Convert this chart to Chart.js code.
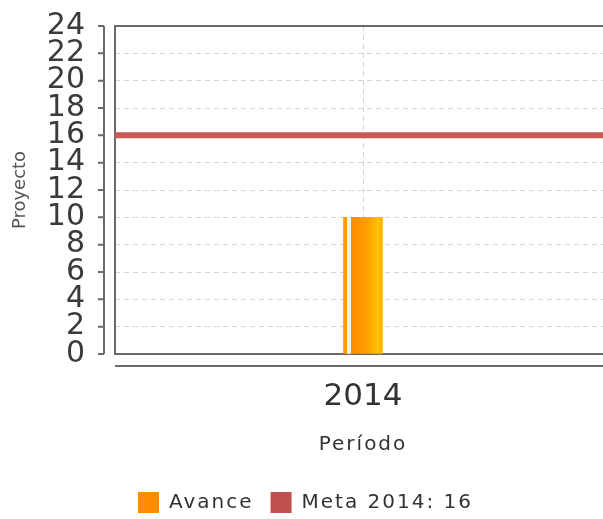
<!DOCTYPE html>
<html>
<head>
<meta charset="utf-8">
<script src="https://cdn.jsdelivr.net/npm/chart.js@4"></script>
<style>
  html, body { margin: 0; padding: 0; overflow: hidden; background: #fff; }
  #wrap { width: 620px; height: 519px; }
</style>
</head>
<body>
<div id="wrap"><canvas id="chart"></canvas></div>
<script>
// data
const categories = ['2014'];
const avance = [10];
const metaValue = 16;
const metaLabel = 'Meta 2014: 16';
const yMin = 0, yMax = 24, yStep = 2;

const FONT = "'DejaVu Sans', sans-serif";

// box round the plot area + the detached y axis line with its tick marks
const frame = {
  id: 'frame',
  beforeDatasetsDraw(chart) {
    const { ctx, chartArea: a, scales } = chart;
    ctx.save();
    ctx.strokeStyle = '#6a6a6a';
    ctx.lineWidth = 2;
    ctx.strokeRect(a.left, a.top, a.right - a.left, a.bottom - a.top);
    // x axis line under the box
    ctx.beginPath();
    ctx.moveTo(a.left, a.bottom + 12);
    ctx.lineTo(a.right + 20, a.bottom + 12);
    ctx.stroke();
    // y axis line to the left of the box
    const ax = a.left - 11;
    ctx.beginPath();
    ctx.moveTo(ax, scales.y.getPixelForValue(yMax));
    ctx.lineTo(ax, scales.y.getPixelForValue(yMin));
    scales.y.ticks.forEach(t => {
      const py = scales.y.getPixelForValue(t.value);
      ctx.moveTo(ax - 6, py);
      ctx.lineTo(ax, py);
    });
    ctx.stroke();
    ctx.restore();
  }
};

// the original spaces out the legend and x title letters a bit
function spaced(obj, names, px) {
  names.forEach(n => {
    const orig = obj[n];
    if (!orig || orig._spaced) return;
    obj[n] = function () {
      const ctx = this.ctx;
      const old = ctx.letterSpacing;
      ctx.letterSpacing = px;
      const r = orig.apply(this, arguments);
      ctx.letterSpacing = old;
      return r;
    };
    obj[n]._spaced = true;
  });
}
const spacing = {
  id: 'spacing',
  beforeLayout(chart) {
    if (chart.legend) spaced(chart.legend, ['fit', 'draw'], '2px');
  },
  afterLayout(chart) {
    spaced(chart.scales.x, ['drawTitle'], '2px');
  }
};

function barFill(c) {
  const chart = c.chart;
  const xs = chart.scales.x;
  if (!chart.chartArea || !xs) return '#ff9900';
  const cx = xs.getPixelForValue(c.dataIndex);
  const g = chart.ctx.createLinearGradient(cx - 19.5, 0, cx + 19.5, 0);
  g.addColorStop(0, '#ff9a00');
  g.addColorStop(0.1, '#ff9a00');
  g.addColorStop(0.1, '#fff2dc');
  g.addColorStop(0.18, '#fff2dc');
  g.addColorStop(0.18, '#ff8a00');
  g.addColorStop(0.65, '#ffa300');
  g.addColorStop(0.88, '#ffc200');
  g.addColorStop(1, '#ffae00');
  return g;
}

new Chart(document.getElementById('chart'), {
  type: 'bar',
  data: {
    labels: categories,
    datasets: [{
      label: 'Avance',
      data: avance,
      backgroundColor: barFill,
      legendColor: '#ff8c00',
      barThickness: 39,
      grouped: false,
      order: 2
    }, {
      label: metaLabel,
      type: 'line',
      xAxisID: 'x2',
      data: [{ x: 0, y: metaValue }, { x: 1, y: metaValue }],
      borderColor: '#c65b56',
      backgroundColor: '#c0504d',
      legendColor: '#c0504d',
      borderWidth: 6,
      pointRadius: 0,
      fill: false,
      order: 1
    }]
  },
  options: {
    responsive: true,
    maintainAspectRatio: false,
    animation: false,
    layout: { padding: { top: 26, right: 9, left: 0, bottom: -4 } },
    plugins: {
      title: { display: false },
      tooltip: { enabled: false },
      legend: {
        position: 'bottom',
        labels: {
          font: { family: FONT, size: 20 },
          color: '#333',
          boxWidth: 21,
          boxHeight: 21,
          padding: 17,
          generateLabels(chart) {
            return chart.data.datasets.map((ds, i) => ({
              text: ds.label,
              fillStyle: ds.legendColor,
              strokeStyle: ds.legendColor,
              lineWidth: 0,
              hidden: false,
              datasetIndex: i,
              fontColor: '#333'
            }));
          }
        }
      }
    },
    scales: {
      x: {
        type: 'category',
        grid: { display: true, offset: false, drawTicks: true, tickLength: 24, tickColor: 'rgba(0,0,0,0)', color: '#d4d4d4' },
        border: { display: false, dash: [5, 4] },
        ticks: { font: { family: FONT, size: 31 }, color: '#333', padding: 0 },
        title: { display: true, text: 'Período', font: { family: FONT, size: 20 }, color: '#333', padding: { top: 10, bottom: 18 } },
        afterFit(s) { s.height = 121; }
      },
      x2: {
        type: 'linear', min: 0, max: 1, offset: false, display: false
      },
      y: {
        min: yMin, max: yMax,
        grid: { drawTicks: true, tickLength: 30, tickColor: 'rgba(0,0,0,0)', color: '#d4d4d4' },
        border: { display: false, dash: [5, 4] },
        ticks: {
          stepSize: yStep, autoSkip: false, padding: 0,
          font: { family: FONT, size: 30, lineHeight: 0.8 }, color: '#3a3a3a'
        },
        title: { display: true, text: 'Proyecto', font: { family: FONT, size: 18 }, color: '#555', padding: { top: 10, bottom: 0 } },
        afterFit(s) { s.width = 115; }
      }
    }
  },
  plugins: [frame, spacing]
});
</script>
</body>
</html>
